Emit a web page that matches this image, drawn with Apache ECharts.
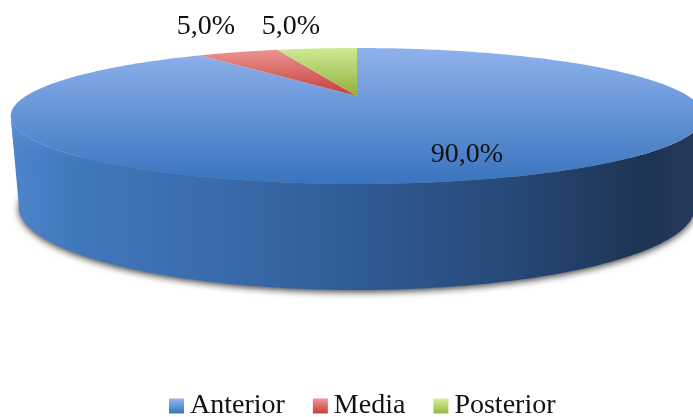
<!DOCTYPE html>
<html><head><meta charset="utf-8">
<style>html,body{margin:0;padding:0;background:#fff}#c{width:693px;height:417px}</style>
<script src="https://cdn.jsdelivr.net/npm/echarts@6/dist/echarts.min.js"></script>
</head><body><div id="c"></div>
<script>
const categories = ['Anterior', 'Media', 'Posterior'];
const values = [90, 5, 5];

const chart = echarts.init(document.getElementById('c'), null, {renderer: 'canvas'});
const G = echarts.graphic.LinearGradient;
const CX = 357, B = 96, A = 33.9, C = -0.294, K = 331;
const total = values.reduce((a, b) => a + b, 0);
const FONT = '"Liberation Serif", serif';

function proj(deg, r) {
  const t = deg * Math.PI / 180, u = Math.sin(t) * r, v = -Math.cos(t) * r, d = 1 + C * v;
  return [CX + K * u / d, (B + A * v) / d];
}
function bottom(deg) {
  const t = deg * Math.PI / 180;
  return [CX + 338 * Math.sin(t), 207 - 83 * Math.cos(t)];
}
const topFills = [
  new G(0, 48, 0, 184, [{offset: 0, color: '#8fb2ec'}, {offset: 1, color: '#3974be'}], true),
  new G(0, 52, 0, 96, [{offset: 0, color: '#ea8f8d'}, {offset: 1, color: '#c23f3b'}], true),
  new G(0, 48, 0, 96, [{offset: 0, color: '#cfea94'}, {offset: 1, color: '#8fb03e'}], true)
];
const legendFills = [
  new G(0, 0, 0, 1, [{offset: 0, color: '#92b6f0'}, {offset: 1, color: '#3a75bd'}]),
  new G(0, 0, 0, 1, [{offset: 0, color: '#f49795'}, {offset: 1, color: '#c63f3c'}]),
  new G(0, 0, 0, 1, [{offset: 0, color: '#d6f29c'}, {offset: 1, color: '#97b843'}])
];
const labelAt = [[467, 155], [206, 27], [291, 27]];
const sideFill = new G(12, 0, 693, 0, [
  {offset: 0, color: '#4e84c9'}, {offset: 0.1, color: '#4077bb'},
  {offset: 0.3, color: '#3a6bab'}, {offset: 0.5, color: '#2f5c96'},
  {offset: 0.72, color: '#274a78'}, {offset: 0.93, color: '#1d3454'},
  {offset: 1, color: '#27395a'}], true);
const edgeBlend = new G(0, 117, 0, 172, [
  {offset: 0, color: 'rgba(101,149,216,1)'},
  {offset: 1, color: 'rgba(62,120,192,0)'}], true);

function render(index) {
  return function (params, api) {
    const val = api.value(0);
    let before = 0;
    for (let i = 0; i < index; i++) before += values[i];
    // Slices run clockwise from twelve o'clock.
    const a0 = before / total * 360, a1 = (before + val) / total * 360;
    const pts = [proj(a0, 0)];
    for (let d = a0; d < a1; d += 1) pts.push(proj(d, 1));
    pts.push(proj(a1, 1));
    const children = [];
    if (index === 0) {
      const base = [];
      for (let d = 0; d < 360; d += 1) base.push(bottom(d));
      children.push({type: 'polygon', shape: {points: base}, style: {
        fill: '#888', shadowBlur: 7, shadowColor: 'rgba(0,0,0,0.75)', shadowOffsetY: 2}});
      const side = [];
      for (let d = 107; d <= 253; d += 1) side.push(proj(d, 1));
      for (let d = 270; d >= 90; d -= 1) side.push(bottom(d));
      children.push({type: 'polygon', shape: {points: side}, style: {fill: sideFill}});
      const blend = [];
      for (let d = 253; d >= 205; d -= 1) blend.push(proj(d, 1));
      blend.push([16, 172]);
      children.push({type: 'polygon', shape: {points: blend}, style: {fill: edgeBlend}});
    }
    children.push({type: 'polygon', shape: {points: pts}, style: {fill: topFills[index]}});
    children.push({type: 'text', z2: 10, style: {
      text: val.toFixed(1).replace('.', ',') + '%',
      x: labelAt[index][0], y: labelAt[index][1],
      align: 'center', verticalAlign: 'middle', fill: '#111',
      font: '28px ' + FONT}});
    return {type: 'group', children};
  };
}

chart.setOption({
  animation: false,
  backgroundColor: '#fff',
  legend: {
    data: categories.map((n, i) => ({name: n, itemStyle: {color: legendFills[i]}})),
    icon: 'rect', itemWidth: 15, itemHeight: 15, itemGap: 28,
    left: 164, top: 387, selectedMode: false,
    textStyle: {fontFamily: FONT, fontSize: 28, color: '#111', padding: [0, 0, 0, 1]}
  },
  series: categories.map((n, i) => ({
    type: 'custom', name: n, coordinateSystem: 'none', silent: true,
    z: i + 1, renderItem: render(i), data: [[values[i]]],
    itemStyle: {color: legendFills[i]}
  }))
});
</script></body></html>
